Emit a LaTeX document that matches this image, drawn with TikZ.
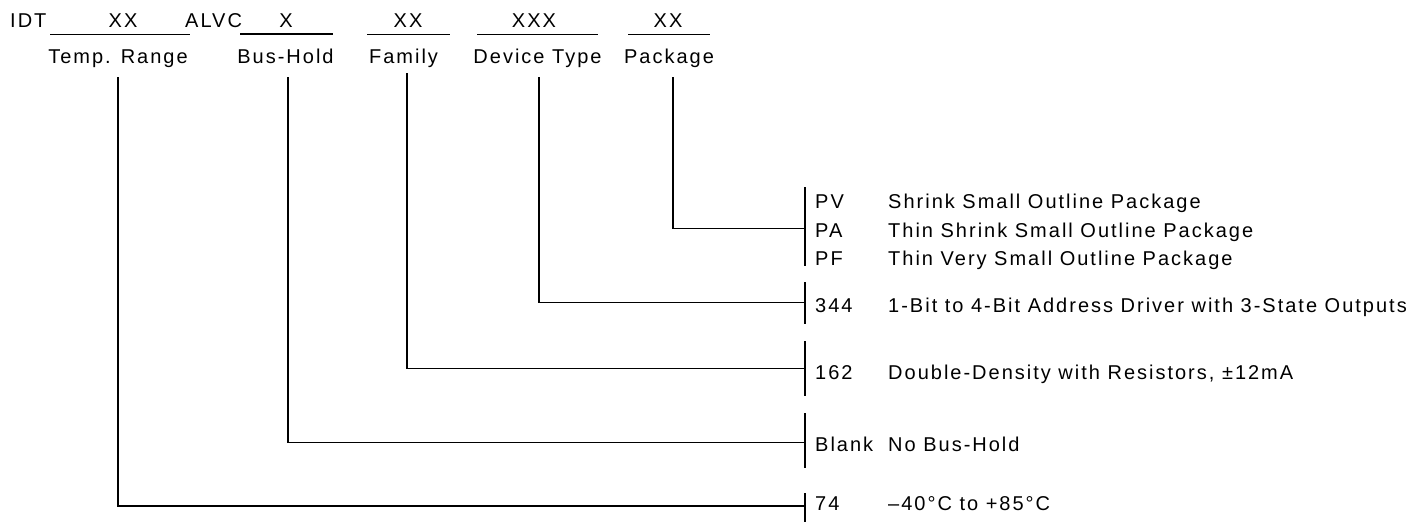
\documentclass[tikz,border=0pt]{standalone}
\usepackage{fontspec}
\setmainfont{Liberation Sans}[LetterSpace=10]
\begin{document}
\begin{tikzpicture}[x=1pt,y=-1pt,
  txt/.style={inner sep=0pt, font=\fontsize{20}{24}\selectfont},
  lab/.style={txt, anchor=base},
  code/.style={txt, anchor=base west},
  ln/.style={line width=1.1pt},
  ul/.style={line width=0.9pt},
  ulb/.style={line width=1.6pt}]
\useasboundingbox (0,0) rectangle (1409,522);

% header line
\node[code] (idt) at (10,27.5) {IDT};
\node[lab] (f1) at (123,27.5) {XX};
\node[code] (alvc) at (185,27.5) {ALVC};
\node[lab] (f2) at (286,27.5) {X};
\node[lab] (f3) at (408,27.5) {XX};
\node[lab] (f4) at (534,27.5) {XXX};
\node[lab] (f5) at (668,27.5) {XX};
\draw[ul] (50,34) -- (190,34);
\draw[ulb] (240,34) -- (333,34);
\draw[ul] (367,34) -- (450,34);
\draw[ul] (477,34) -- (598,34);
\draw[ul] (628,34) -- (710,34);

% field labels
\node[lab] (temp) at (118,63) {Temp. Range};
\node[lab] (bus) at (285.5,63) {Bus-Hold};
\node[lab] (fam) at (403.5,63) {Family};
\node[lab] (dev) at (537.5,63) {Device Type};
\node[lab] (pkg) at (669,63) {Package};

% connector start points
\coordinate (tempS) at (118,77);
\coordinate (busS) at (288,77);
\coordinate (famS) at (407,73);
\coordinate (devS) at (539,77);
\coordinate (pkgS) at (673,77);

% bracket junctions
\coordinate (pkgJ) at (805,228.5);
\coordinate (devJ) at (805,302.5);
\coordinate (famJ) at (805,368.5);
\coordinate (busJ) at (805,442.5);
\coordinate (tempJ) at (805,506);

% brackets
\coordinate (pkgA) at (805,187); \coordinate (pkgB) at (805,266);
\coordinate (devA) at (805,282); \coordinate (devB) at (805,324);
\coordinate (famA) at (805,341); \coordinate (famB) at (805,396);
\coordinate (busA) at (805,413); \coordinate (busB) at (805,468);
\coordinate (tempA) at (805,493); \coordinate (tempB) at (805,522);
\draw[ln] (pkgA) -- (pkgB);
\draw[ln] (devA) -- (devB);
\draw[ln] (famA) -- (famB);
\draw[ln] (busA) -- (busB);
\draw[ln] (tempA) -- (tempB);

% connectors
\draw[ln] (pkgS) |- (pkgJ);
\draw[ln] (devS) |- (devJ);
\draw[ln] (famS) |- (famJ);
\draw[ln] (busS) |- (busJ);
\draw[ln] (tempS) |- (tempJ);

% options
\node[code] (pv) at (815,208.5) {PV};
\node[code] (pvd) at (888,208.5) {Shrink Small Outline Package};
\node[code] (pa) at (815,237) {PA};
\node[code] (pad) at (888,237) {Thin Shrink Small Outline Package};
\node[code] (pf) at (815,265.5) {PF};
\node[code] (pfd) at (888,265.5) {Thin Very Small Outline Package};
\node[code] (c344) at (815,312.5) {344};
\node[code] (c344d) at (888,312.5) {1-Bit to 4-Bit Address Driver with 3-State Outputs};
\node[code] (c162) at (815,379) {162};
\node[code] (c162d) at (888,379) {Double-Density with Resistors, ±12mA};
\node[code] (blank) at (815,451.5) {Blank};
\node[code] (blankd) at (888,451.5) {No Bus-Hold};
\node[code] (c74) at (815,510) {74};
\node[code] (c74d) at (888,510) {–40°C to +85°C};
\end{tikzpicture}
\end{document}
